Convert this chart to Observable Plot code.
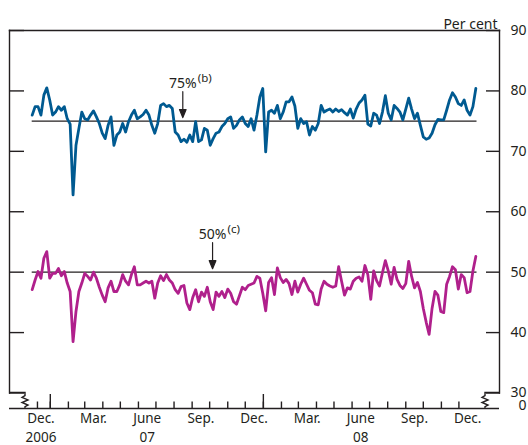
<!DOCTYPE html>
<html><head><meta charset="utf-8">
<script src="https://cdn.jsdelivr.net/npm/d3@7"></script>
<script src="https://cdn.jsdelivr.net/npm/@observablehq/plot@0.6"></script>
<style>
html,body{margin:0;padding:0;background:#fff;}
#chart{width:528px;height:445px;overflow:hidden;}
</style></head><body><div id="chart"></div>
<script>
// Observations every 5 days from 1 Dec 2006
const startDate = "2006-12-01";
const endDate = "2009-01-01";
const stepDays = 5;

// Upper series (per cent) – 75% threshold measure
const series75 = [
76.0,77.4,77.4,76.0,79.3,80.5,78.5,76.0,76.5,77.4,
76.8,77.4,75.4,74.5,62.8,71.0,73.8,76.5,75.4,75.2,
76.0,76.7,75.7,74.6,73.0,72.1,74.3,75.7,71.0,72.7,
73.2,74.6,73.2,74.9,76.0,76.8,75.4,75.7,76.1,76.8,
76.0,74.3,73.0,74.6,77.6,77.9,77.4,77.6,77.1,73.2,
72.7,71.6,72.0,71.5,72.7,71.6,74.9,71.6,71.9,73.8,
73.5,71.0,72.1,73.0,73.2,74.1,74.6,75.4,75.7,73.8,
74.3,75.2,75.7,74.6,74.1,75.4,73.5,76.0,79.0,80.4,
69.9,76.5,76.8,76.3,77.6,75.4,76.5,78.2,78.2,79.0,
77.5,73.8,75.4,74.6,74.9,72.7,74.1,73.5,74.6,77.6,
76.5,76.8,77.0,76.5,77.0,76.6,76.9,76.4,76.0,77.0,
75.5,77.0,78.0,78.5,79.3,74.5,74.2,76.3,76.0,74.6,
76.5,79.2,76.3,75.2,77.6,77.1,76.5,75.2,77.0,78.8,
77.0,75.4,76.3,74.3,72.4,72.0,72.2,73.0,74.4,75.3,
75.2,75.2,76.8,78.5,79.7,79.0,77.9,77.6,78.5,76.8,
76.0,77.4,80.4
];

// Lower series (per cent) – 50% threshold measure
const series50 = [
47.1,48.7,50.1,49.0,52.3,53.4,49.0,49.8,49.8,50.6,
49.4,50.1,48.2,46.8,38.5,43.5,46.8,48.2,49.8,49.3,
48.7,50.0,49.0,47.5,46.2,45.1,47.4,48.5,46.8,46.8,
47.9,49.6,48.5,47.9,49.6,50.9,47.9,47.9,48.2,48.5,
48.2,48.5,45.7,48.2,49.4,48.6,49.6,48.7,48.2,47.1,
46.5,47.6,47.8,44.9,43.8,45.8,47.1,45.1,46.7,46.0,
47.5,45.1,43.8,46.7,46.0,46.8,45.8,47.2,46.5,45.1,
44.7,46.1,47.5,47.1,47.8,48.0,48.2,49.3,49.0,46.5,
43.6,48.3,49.1,46.3,50.7,49.1,48.3,48.8,48.1,46.3,
48.5,46.7,48.0,49.0,48.0,47.0,46.6,44.7,44.6,47.2,
48.5,48.0,47.7,47.5,47.7,50.9,48.5,46.2,47.4,47.2,
48.5,49.0,49.2,48.5,51.1,49.6,45.5,50.2,48.6,47.7,
49.9,51.9,50.2,48.0,50.8,48.8,47.8,47.3,48.1,51.8,
49.3,47.4,48.3,46.8,44.0,41.7,39.7,44.0,46.8,46.2,
43.5,43.3,48.0,49.3,50.9,50.4,47.2,49.6,49.1,46.6,
46.8,50.2,52.6
];

const yTicks = [30, 40, 50, 60, 70, 80, 90];
const yearTickDates = ["2007-01-01", "2008-01-01"];
const extraTickDates = ["2006-12-10"];
const monthLabels = ["Dec.", "Mar.", "June", "Sep.", "Dec.", "Mar.", "June", "Sep.", "Dec."];
const monthLabelDates = ["2006-12-16", "2007-03-16", "2007-06-16", "2007-09-16", "2007-12-16",
                         "2008-03-16", "2008-06-16", "2008-09-16", "2008-12-16"];
const yearLabels = ["2006", "07", "08"];
const yearLabelDates = ["2006-12-16", "2007-06-16", "2008-06-16"];
const thresholdValues = [75, 50];
const thresholdTexts = ["75%", "50%"];
const thresholdNotes = ["(b)", "(c)"];
const thresholdDates = ["2007-08-16", "2007-10-06"];

const BLUE = "#005a91", MAGENTA = "#b0208c", INK = "#231f20";

const t0 = new Date(startDate);
const toRows = (arr) => arr.map((v, i) => ({date: d3.utcDay.offset(t0, stepDays * i), value: v}));
const rows75 = toRows(series75);
const rows50 = toRows(series50);
const monthTicks = d3.utcMonth.range(new Date("2007-01-01"), new Date("2009-01-01"))
  .concat(extraTickDates.map(d => new Date(d)));
const yearTicks = yearTickDates.map(d => new Date(d));
const mLabels = monthLabels.map((l, i) => ({date: new Date(monthLabelDates[i]), label: l}));
const yLabels = yearLabels.map((l, i) => ({date: new Date(yearLabelDates[i]), label: l}));
const thresholds = thresholdValues.map((v, i) => ({value: v, text: thresholdTexts[i], note: thresholdNotes[i], date: new Date(thresholdDates[i])}));

const axisGap = 15.5;
const arrowShape = {
  draw(ctx, l) {
    ctx.moveTo(0, 0); ctx.lineTo(0, -l + 7);
    ctx.moveTo(-3.3, -l + 8); ctx.lineTo(0, -l); ctx.lineTo(3.3, -l + 8); ctx.closePath();
  }
};

const breaks = (index, scales, values, dims) => {
  const L = dims.marginLeft, R = dims.width - dims.marginRight, B = dims.height - dims.marginBottom, A = B + axisGap;
  const zig = `V${B + 3} l-3,1.8 l6,2.6 l-6,2.6 l6,2.6 l-3,1.6 V${A}`;
  return d3.create("svg:path")
    .attr("d", `M${L},${B} H${L + 16} ${zig} M${R},${B} H${R - 14} ${zig}`)
    .attr("fill", "none").attr("stroke", INK).attr("stroke-width", 1.4)
    .node();
};

const chart = Plot.plot({
  width: 528, height: 445,
  marginTop: 30, marginBottom: 52.5, marginLeft: 9, marginRight: 29,
  style: {fontFamily: "'Noto Sans', sans-serif", fontSize: "14px", color: INK, background: "#fff"},
  x: {type: "utc", domain: [t0, new Date(endDate)], insetLeft: 22.7, insetRight: 22.5},
  y: {domain: [30, 90]},
  marks: [
    Plot.frame({anchor: "top", stroke: INK, strokeWidth: 1.4}),
    Plot.frame({anchor: "left", stroke: INK, strokeWidth: 1.4}),
    Plot.frame({anchor: "right", stroke: INK, strokeWidth: 1.4}),
    breaks,
    Plot.ruleY([30], {dy: axisGap, stroke: INK, strokeWidth: 1.4}),
    Plot.axisY(yTicks, {anchor: "left", tickSize: -15, tickFormat: () => "", label: null, stroke: INK, strokeWidth: 1.4}),
    Plot.axisY(yTicks, {anchor: "right", tickSize: -14, tickFormat: () => "", label: null, stroke: INK, strokeWidth: 1.4}),
    Plot.axisY(yTicks, {anchor: "right", tickSize: 0, tickPadding: 27, textAnchor: "end", label: null, fill: INK, fontSize: 14}),
    Plot.text(["0"], {text: d => d, frameAnchor: "bottom-right", dx: 27, dy: axisGap + 1.5, textAnchor: "end", fill: INK, fontSize: 14}),
    Plot.text(["Per cent"], {text: d => d, frameAnchor: "top-right", dx: -2, dy: -11, textAnchor: "end", fill: INK, fontSize: 14}),
    Plot.axisX(monthTicks, {anchor: "bottom", tickSize: -6.5, dy: axisGap, tickFormat: () => "", label: null, stroke: INK, strokeWidth: 1.4}),
    Plot.axisX(yearTicks, {anchor: "bottom", tickSize: -14, dy: axisGap, tickFormat: () => "", label: null, stroke: INK, strokeWidth: 1.4}),
    Plot.text(mLabels, {x: "date", text: "label", frameAnchor: "bottom", dy: 29.5, fill: INK, fontSize: 13.5}),
    Plot.text(yLabels, {x: "date", text: "label", frameAnchor: "bottom", dy: 49, fill: INK, fontSize: 13.5}),
    Plot.ruleY(thresholds, {y: "value", x1: () => t0, x2: () => new Date(endDate), stroke: INK, strokeWidth: 1.4}),
    Plot.line(rows75, {x: "date", y: "value", stroke: BLUE, strokeWidth: 2.8, strokeLinejoin: "round"}),
    Plot.line(rows50, {x: "date", y: "value", stroke: MAGENTA, strokeWidth: 2.8, strokeLinejoin: "round"}),
    Plot.vector(thresholds, {x: "date", y: "value", length: 26, rotate: 180, anchor: "end", dy: -3.5, shape: arrowShape, stroke: INK, fill: INK, strokeWidth: 1.2}),
    Plot.text(thresholds, {x: "date", y: "value", text: "text", dy: -38, fill: INK, fontSize: 14}),
    Plot.text(thresholds, {x: "date", y: "value", text: "note", dy: -42.5, dx: 15, textAnchor: "start", fill: INK, fontSize: 11.5})
  ]
});
document.getElementById("chart").appendChild(chart);
</script>
</body></html>
